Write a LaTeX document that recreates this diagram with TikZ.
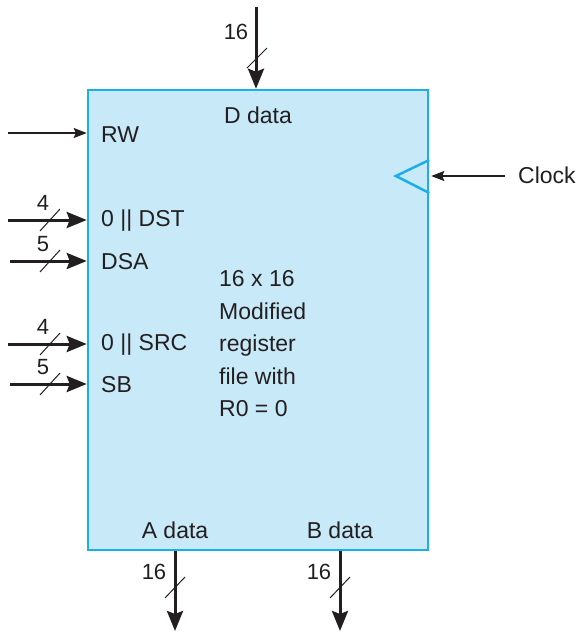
\documentclass[tikz,border=0pt]{standalone}
\usepackage{fontspec}
\setmainfont{Liberation Sans}
\usetikzlibrary{arrows.meta,calc,positioning}
\definecolor{FileFill}{HTML}{C8E9F8}
\definecolor{FileEdge}{HTML}{1AAFE6}
\definecolor{Ink}{HTML}{231F20}

\begin{document}
\begin{tikzpicture}[x=1pt,y=-1pt,font=\fontsize{23}{27}\selectfont,
    bus/.style={Ink,line width=3pt,-{Stealth[length=20pt,width=16pt,inset=3pt]}},
    wire/.style={Ink,line width=1.2pt,-{Stealth[length=13pt,width=10pt,inset=2pt]}},
    port/.style={anchor=west,inner sep=0pt,text=Ink},
    width/.style={text=Ink,inner sep=0pt,font=\fontsize{22}{24}\selectfont},
    tick/.style={Ink,line width=1pt}]
    \useasboundingbox (0,0) rectangle (579,633);
    \node[draw=FileEdge,fill=FileFill,line width=2.5pt,inner sep=0pt,
      minimum width=340pt,minimum height=460pt] (regfile) at (258,320) {};

    % write side
    \coordinate (din) at (256,7);
    \draw[bus] (din) -- (din |- regfile.north);
    \draw[tick] ($(din)+(-9,61)$) -- ++(20,-20);
    \node[width] (dwidth) at (236,32) {16};
    \node[text=Ink] (dlbl) at (258,115) {D data};

    \coordinate (rwin) at (8,133);
    \draw[wire] (rwin) -- (regfile.west |- rwin);
    \node[port] (rw) at (101,135) {RW};

    \foreach \nm/\yy/\xs/\w/\lab in {
      dst/220/8/4/{0 || DST},dsa/261/10/5/DSA,
      src/344/8/4/{0 || SRC},sb/384/10/5/SB}
      {
        \coordinate (\nm in) at (\xs,\yy);
        \draw[bus] (\nm in) -- (regfile.west |- \nm in);
        \draw[tick] (40,\yy+11) -- ++(20,-22);
        \node[width] (\nm w) at (43,\yy-17) {\w};
        \node[port] (\nm) at (101,\yy+1) {\lab};
      }

    % clock
    \draw[FileEdge,line width=2.5pt] (regfile.east |- 0,160) -- (396,176)
      -- (regfile.east |- 0,193);
    \node[port] (clk) at (518,175) {Clock};
    \coordinate (clkin) at (505,176);
    \draw[wire] (clkin) -- ($(regfile.east |- clkin)+(2,0)$);

    \node[anchor=west,align=left,text=Ink,inner sep=0pt,
      font=\fontsize{23}{32.5}\selectfont] (info) at (219,344)
      {16 x 16\\Modified\\register\\file with\\R0 = 0};

    % read side
    \foreach \nm/\xx/\lab in {a/175/A data,b/340/B data}
      {
        \node[text=Ink] (\nm lbl) at (\xx,530) {\lab};
        \coordinate (\nm out) at (\xx,631);
        \draw[bus] (regfile.south -| \nm out) -- (\nm out);
        \draw[tick] (\xx-10,598) -- ++(20,-21);
        \node[width] (\nm w) at (\xx-21,572) {16};
      }
  \end{tikzpicture}
\end{document}
